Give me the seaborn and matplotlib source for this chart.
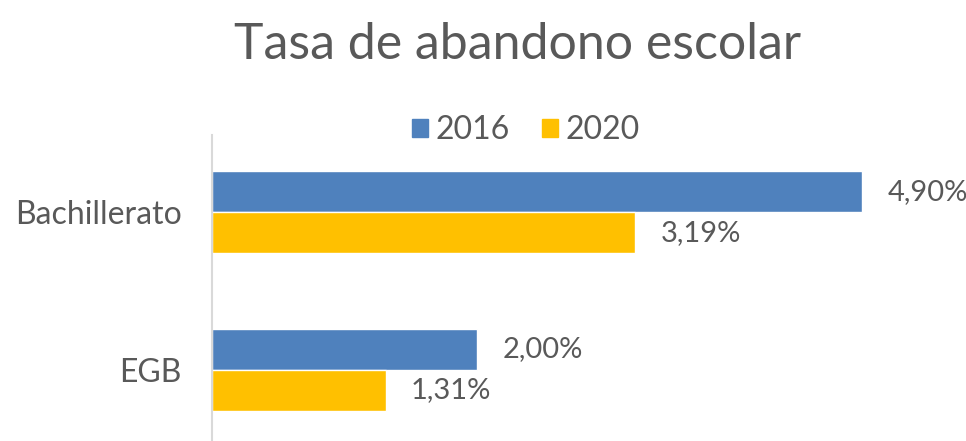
import pandas as pd
import matplotlib.pyplot as plt
import seaborn as sns

# Data
categories = ['Bachillerato', 'EGB']
years = ['2016', '2020']
rate_2016 = [4.90, 2.00]
rate_2020 = [3.19, 1.31]

df = pd.DataFrame({
    'nivel': categories * 2,
    'anio': [years[0]] * 2 + [years[1]] * 2,
    'tasa': rate_2016 + rate_2020,
})

sns.set_style('white')
plt.rcParams['font.family'] = ['Lato', 'DejaVu Sans']
txt = '#595959'

fig = plt.figure(figsize=(9.66, 4.41), dpi=100)
ax = fig.add_axes([212 / 966, 0.0, 730 / 966, 306 / 441])

sns.barplot(data=df, y='nivel', x='tasa', hue='anio', orient='h',
            palette=['#4F81BD', '#FFC000'], width=0.52, saturation=1,
            ax=ax, legend=False)

for cont in ax.containers:
    ax.bar_label(cont, labels=[f'{v:.2f}%'.replace('.', ',') for v in cont.datavalues],
                 padding=18, fontsize=21, color=txt)

ax.set_xlim(0, 5.5)
ax.set_ylim(1.45, -0.49)
ax.set_xlabel('')
ax.set_ylabel('')
ax.set_xticks([])
ax.tick_params(axis='y', length=0, pad=22, labelsize=23, labelcolor=txt)
for s in ['top', 'right', 'bottom']:
    ax.spines[s].set_visible(False)
ax.spines['left'].set_color('#D9D9D9')
ax.spines['left'].set_linewidth(1.5)

handles = [plt.Rectangle((0, 0), 1, 1, color=c) for c in ['#4F81BD', '#FFC000']]
fig.legend(handles, years, loc='center', bbox_to_anchor=(526 / 966, 1 - 130 / 441),
           ncol=2, frameon=False, fontsize=23, labelcolor=txt,
           handlelength=0.5, handleheight=0.5, handletextpad=0.25, columnspacing=1.0)

fig.text(518 / 966, 1 - 45 / 441, 'Tasa de abandono escolar', ha='center', va='center',
         fontsize=36, color=txt)

fig.savefig('out.png', dpi=100)
